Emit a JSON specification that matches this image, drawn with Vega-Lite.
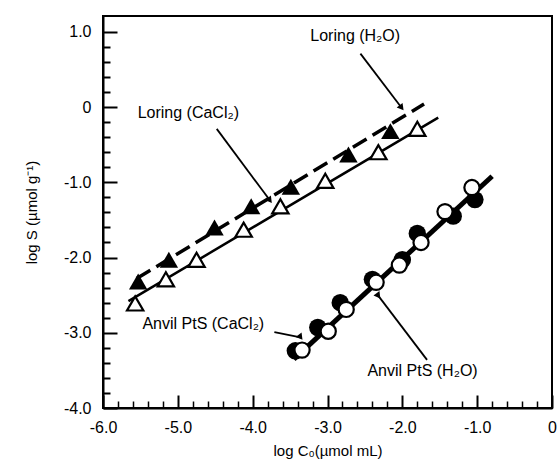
{
  "$schema": "https://vega.github.io/schema/vega-lite/v6.json",
  "width": 449,
  "height": 392,
  "autosize": {"type": "none"},
  "padding": {"left": 103, "top": 16, "right": 6, "bottom": 59},
  "background": "white",
  "config": {
    "view": {"stroke": "black", "strokeWidth": 2},
    "font": "Liberation Sans",
    "axis": {"labelFont": "Liberation Sans", "titleFont": "Liberation Sans", "labelColor": "black", "titleColor": "black", "tickColor": "black", "domainColor": "black", "grid": false, "titleFontWeight": "normal", "labelFlush": false}
  },
  "datasets": {
    "points": [
      {"series": "Loring H2O", "x": -5.53, "y": -2.32},
      {"series": "Loring H2O", "x": -5.12, "y": -2.03},
      {"series": "Loring H2O", "x": -4.51, "y": -1.60},
      {"series": "Loring H2O", "x": -4.02, "y": -1.32},
      {"series": "Loring H2O", "x": -3.49, "y": -1.06},
      {"series": "Loring H2O", "x": -2.72, "y": -0.63},
      {"series": "Loring H2O", "x": -2.16, "y": -0.32},
      {"series": "Loring CaCl2", "x": -5.57, "y": -2.61},
      {"series": "Loring CaCl2", "x": -5.16, "y": -2.29},
      {"series": "Loring CaCl2", "x": -4.75, "y": -2.03},
      {"series": "Loring CaCl2", "x": -4.12, "y": -1.63},
      {"series": "Loring CaCl2", "x": -3.63, "y": -1.32},
      {"series": "Loring CaCl2", "x": -3.03, "y": -0.98},
      {"series": "Loring CaCl2", "x": -2.32, "y": -0.60},
      {"series": "Loring CaCl2", "x": -1.80, "y": -0.29},
      {"series": "Anvil H2O", "x": -3.43, "y": -3.24},
      {"series": "Anvil H2O", "x": -3.13, "y": -2.93},
      {"series": "Anvil H2O", "x": -2.83, "y": -2.60},
      {"series": "Anvil H2O", "x": -2.40, "y": -2.29},
      {"series": "Anvil H2O", "x": -2.00, "y": -2.03},
      {"series": "Anvil H2O", "x": -1.80, "y": -1.68},
      {"series": "Anvil H2O", "x": -1.32, "y": -1.45},
      {"series": "Anvil H2O", "x": -1.03, "y": -1.23},
      {"series": "Anvil CaCl2", "x": -3.34, "y": -3.23},
      {"series": "Anvil CaCl2", "x": -2.99, "y": -2.98},
      {"series": "Anvil CaCl2", "x": -2.75, "y": -2.69},
      {"series": "Anvil CaCl2", "x": -2.35, "y": -2.33},
      {"series": "Anvil CaCl2", "x": -2.04, "y": -2.10},
      {"series": "Anvil CaCl2", "x": -1.75, "y": -1.80},
      {"series": "Anvil CaCl2", "x": -1.43, "y": -1.39},
      {"series": "Anvil CaCl2", "x": -1.07, "y": -1.07}
    ],
    "fits": [
      {"series": "Loring H2O", "x": -5.55, "y": -2.28},
      {"series": "Loring H2O", "x": -1.71, "y": 0.04},
      {"series": "Loring CaCl2", "x": -5.66, "y": -2.58},
      {"series": "Loring CaCl2", "x": -1.52, "y": -0.14},
      {"series": "Anvil", "x": -3.45, "y": -3.35},
      {"series": "Anvil", "x": -0.80, "y": -0.92}
    ],
    "labels": [
      {"name": "Loring H2O", "text": "Loring (H₂O)", "x": -2.63, "y": 0.95},
      {"name": "Loring CaCl2", "text": "Loring (CaCl₂)", "x": -4.86, "y": -0.08},
      {"name": "Anvil CaCl2", "text": "Anvil PtS (CaCl₂)", "x": -4.66, "y": -2.89},
      {"name": "Anvil H2O", "text": "Anvil PtS (H₂O)", "x": -1.73, "y": -3.51}
    ],
    "arrows": [
      {"name": "Loring H2O", "x": -2.56, "y": 0.71, "x2": -2.01, "y2": -0.01},
      {"name": "Loring CaCl2", "x": -4.48, "y": -0.29, "x2": -3.77, "y2": -1.24},
      {"name": "Anvil CaCl2", "x": -3.71, "y": -2.99, "x2": -3.36, "y2": -3.06},
      {"name": "Anvil H2O", "x": -1.67, "y": -3.36, "x2": -2.32, "y2": -2.51}
    ]
  },
  "layer": [
    {
      "data": {"name": "fits"},
      "transform": [{"filter": "datum.series === 'Loring H2O'"}],
      "mark": {"type": "line", "color": "black", "strokeWidth": 3.5, "strokeDash": [16, 7], "clip": true},
      "encoding": {
        "x": {"field": "x", "type": "quantitative", "scale": {"domain": [-6, 0], "nice": false, "zero": false},
          "axis": {"orient": "bottom", "values": [-6, -5, -4, -3, -2, -1, 0], "tickSize": -13, "tickWidth": 2, "domainWidth": 2, "labelPadding": 24, "labelFontSize": 16, "labelExpr": "datum.value == 0 ? '0' : (datum.value < 0 ? '-' : '') + format(abs(datum.value), '.1f')", "title": "log C₀(µmol mL)", "titleFontSize": 15, "titlePadding": 8}},
        "y": {"field": "y", "type": "quantitative", "scale": {"domain": [-4, 1.21], "nice": false, "zero": false},
          "axis": {"orient": "left", "values": [-4, -3, -2, -1, 0, 1], "tickSize": -14, "tickWidth": 2, "domainWidth": 2, "labelPadding": 26, "labelFontSize": 16, "labelExpr": "datum.value == 0 ? '0' : (datum.value < 0 ? '-' : '') + format(abs(datum.value), '.1f')", "title": "log S (µmol g⁻¹)", "titleFontSize": 15, "titlePadding": 24}}
      }
    },
    {
      "data": {"name": "fits"},
      "transform": [{"filter": "datum.series !== 'Loring H2O'"}],
      "mark": {"type": "line", "color": "black", "clip": true},
      "encoding": {
        "x": {"field": "x", "type": "quantitative",
          "axis": {"orient": "bottom", "values": [-5.8, -5.6, -5.4, -5.2, -4.8, -4.6, -4.4, -4.2, -3.8, -3.6, -3.4, -3.2, -2.8, -2.6, -2.4, -2.2, -1.8, -1.6, -1.4, -1.2, -0.8, -0.6, -0.4, -0.2], "tickSize": -7, "tickWidth": 1.5, "labels": false, "domain": false, "title": null}},
        "y": {"field": "y", "type": "quantitative",
          "axis": {"orient": "left", "values": [-3.8, -3.6, -3.4, -3.2, -2.8, -2.6, -2.4, -2.2, -1.8, -1.6, -1.4, -1.2, -0.8, -0.6, -0.4, -0.2, 0.2, 0.4, 0.6, 0.8], "tickSize": -7, "tickWidth": 2, "labels": false, "domain": false, "title": null}},
        "detail": {"field": "series"},
        "strokeWidth": {"field": "series", "type": "nominal", "scale": {"domain": ["Loring CaCl2", "Anvil"], "range": [2.5, 5]}, "legend": null}
      }
    },
    {
      "data": {"name": "points"},
      "transform": [{"filter": "datum.series === 'Anvil H2O' || datum.series === 'Loring H2O'"}],
      "mark": {"type": "point", "filled": true, "color": "black", "opacity": 1},
      "encoding": {
        "x": {"field": "x", "type": "quantitative", "axis": null},
        "y": {"field": "y", "type": "quantitative", "axis": null},
        "shape": {"field": "series", "type": "nominal", "scale": {"domain": ["Loring H2O", "Anvil H2O"], "range": ["triangle-up", "circle"]}, "legend": null},
        "size": {"field": "series", "type": "nominal", "scale": {"domain": ["Loring H2O", "Anvil H2O"], "range": [340, 230]}, "legend": null}
      }
    },
    {
      "data": {"name": "points"},
      "transform": [{"filter": "datum.series === 'Anvil CaCl2' || datum.series === 'Loring CaCl2'"}],
      "mark": {"type": "point", "filled": true, "fill": "white", "stroke": "black", "strokeWidth": 2.2, "opacity": 1, "fillOpacity": 1},
      "encoding": {
        "x": {"field": "x", "type": "quantitative", "axis": null},
        "y": {"field": "y", "type": "quantitative", "axis": null},
        "shape": {"field": "series", "type": "nominal", "scale": {"domain": ["Loring CaCl2", "Anvil CaCl2"], "range": ["triangle-up", "circle"]}, "legend": null},
        "size": {"field": "series", "type": "nominal", "scale": {"domain": ["Loring CaCl2", "Anvil CaCl2"], "range": [260, 210]}, "legend": null}
      }
    },
    {
      "data": {"name": "arrows"},
      "mark": {"type": "rule", "color": "black", "strokeWidth": 1.8},
      "encoding": {
        "x": {"field": "x", "type": "quantitative", "axis": null},
        "y": {"field": "y", "type": "quantitative", "axis": null},
        "x2": {"field": "x2"},
        "y2": {"field": "y2"}
      }
    },
    {
      "data": {"name": "arrows"},
      "mark": {"type": "point", "shape": "triangle-up", "filled": true, "color": "black", "opacity": 1, "size": 55},
      "encoding": {
        "x": {"field": "x2", "type": "quantitative", "axis": null},
        "y": {"field": "y2", "type": "quantitative", "axis": null},
        "angle": {"field": "name", "type": "nominal", "scale": {"domain": ["Loring H2O", "Loring CaCl2", "Anvil CaCl2", "Anvil H2O"], "range": [142.5, 143.4, 101.7, 322.9]}, "legend": null}
      }
    },
    {
      "data": {"name": "labels"},
      "mark": {"type": "text", "font": "Liberation Sans", "fontSize": 16, "color": "black", "align": "center", "baseline": "middle"},
      "encoding": {
        "x": {"field": "x", "type": "quantitative", "axis": null},
        "y": {"field": "y", "type": "quantitative", "axis": null},
        "text": {"field": "text"}
      }
    }
  ],
  "resolve": {"axis": {"x": "independent", "y": "independent"}}
}
